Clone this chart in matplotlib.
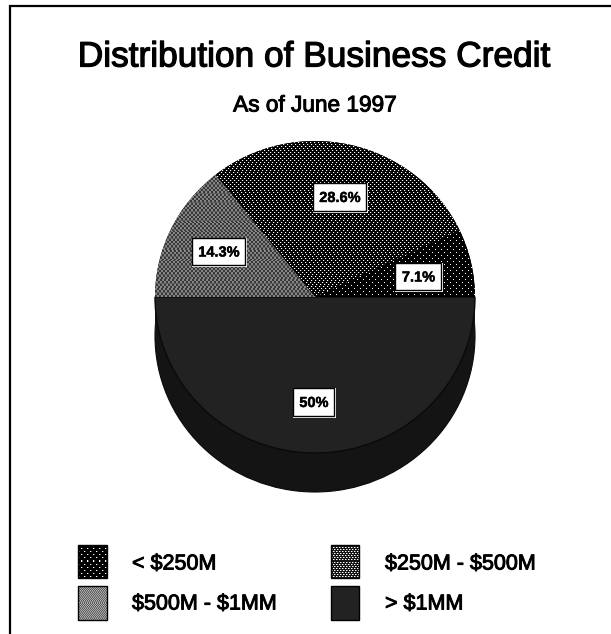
import numpy as np
import matplotlib
import matplotlib.pyplot as plt
import matplotlib.patheffects as pe
from matplotlib.lines import Line2D
from matplotlib.patches import Ellipse, Rectangle
matplotlib.use('Agg')

W, H = 611, 634
CX, CY, RX, RY, DEPTH = 315, 297, 160, 156, 39

categories = ["< $250M", "$250M - $500M", "$500M - $1MM", "> $1MM"]
shares = [7.1, 28.6, 14.3, 50]
title = "Distribution of Business Credit"
subtitle = "As of June 1997"

# label boxes, in pixels: left, top, right, bottom
label_boxes = [(395, 263, 442, 291), (313, 183, 367, 212), (192, 238, 246, 266), (293, 388, 335, 417)]
# legend swatches, in the same order as the categories
swatches = [(78, 545, 107, 578), (331, 545, 359, 578), (78, 586, 107, 620), (331, 586, 359, 620)]
legend_text = [(132, 564), (385, 564), (132, 604), (385, 604)]

plt.rcParams['font.family'] = ['Liberation Sans', 'DejaVu Sans']


def dots(period_x, period_y, low=0.0, high=1.0, side=0.0):
    # staggered single pixel dots on a dark ground, side is a dimmer neighbour pixel
    tile = np.full((period_y * 2, period_x), low)
    tile[0, 0] = high
    tile[0, 1] = side
    tile[period_y, period_x // 2] = high
    tile[period_y, period_x // 2 + 1] = side
    return tile


def weave(dark, light, size=2):
    # grey checks with a flatter row that gives the horizontal banding
    row_a = np.repeat([dark, light], size)
    row_b = np.repeat([light, dark], size)
    band = np.full(size * 2, (dark + light) / 2)
    return np.vstack([np.tile(row_a, (size, 1)), np.tile(row_b, (size, 1)), band,
                      np.tile(row_a, (size, 1)), np.tile(row_b, (size, 1))])


def texture(tile, wave=0):
    ny = H // tile.shape[0] + 1
    nx = W // tile.shape[1] + 2
    tex = np.tile(tile, (ny, nx))[:H]
    if wave:
        # slow sideways drift of the rows
        for row in range(H):
            tex[row] = np.roll(tex[row], int(round(wave * np.sin(row / 9.0))))
    return tex[:, :W]


def px(x, y):
    # pixel position to pie data units
    return (x - CX) / RX, (CY - y) / RY


def heavy(width):
    return [pe.withStroke(linewidth=width, foreground='black')]


fig = plt.figure(figsize=(W / 100, H / 100), dpi=100)
ax = fig.add_axes([0, 0, 1, 1])

wedges, _ = ax.pie(shares, startangle=0, counterclock=True, radius=1)

ax.set_aspect('auto')
ax.set_xlim(px(0, 0)[0], px(W, 0)[0])
ax.set_ylim(px(0, H)[1], px(0, 0)[1])
ax.axis('off')
extent = (*ax.get_xlim(), *ax.get_ylim())

# side of the disc below the front half
depth = DEPTH / RY
ax.add_patch(Ellipse((0, -depth), 2, 2, fc='#141414', ec='#0a0a0a', lw=0.8, zorder=0.5))
ax.add_patch(Rectangle((-1, -depth), 2, depth, fc='#141414', ec='none', zorder=0.5))

pie_fills = [(dots(6, 3), 0), (dots(4, 2, side=0.18), 2), (weave(0.22, 0.52), 1), None]
for wedge, fill in zip(wedges, pie_fills):
    wedge.set_zorder(1)
    if fill is None:
        wedge.set_facecolor('#222222')
        wedge.set_edgecolor('#0a0a0a')
        wedge.set_linewidth(1)
    else:
        wedge.set_facecolor('black')
        wedge.set_edgecolor('none')
        im = ax.imshow(texture(fill[0], fill[1]), cmap='gray', vmin=0, vmax=1, extent=extent,
                       aspect='auto', interpolation='nearest', zorder=1.5)
        im.set_clip_path(wedge)


def box(x0, y0, x1, y1, **kw):
    a, b = px(x0, y1)
    c, d = px(x1, y0)
    r = Rectangle((a, b), c - a, d - b, **kw)
    ax.add_patch(r)
    return r


for share, (x0, y0, x1, y1) in zip(shares, label_boxes):
    box(x0, y0, x1 + 1, y1 + 1, fc='white', ec='none', zorder=3)
    box(x0, y0, x1 - 1, y1 - 1, fc='white', ec='black', lw=1, zorder=3.5)
    fig.text((x0 + x1) / 2 / W, 1 - ((y0 + y1) / 2 + 0.5) / H, f"{share:g}%",
             ha='center', va='center', fontsize=10.5, fontweight='bold', color='black', zorder=5,
             path_effects=heavy(0.3))

# the small swatches use finer screens than the pie
swatch_fills = [dots(6, 3, side=0.3), dots(3, 2, low=0.08, side=0.5), weave(0.35, 0.68, size=1), None]
for tile, (x0, y0, x1, y1) in zip(swatch_fills, swatches):
    if tile is None:
        box(x0, y0, x1, y1, fc='#222222', ec='black', lw=1, zorder=3)
    else:
        clip = box(x0, y0, x1, y1, fc='black', ec='none', zorder=3)
        im = ax.imshow(texture(tile), cmap='gray', vmin=0, vmax=1, extent=extent,
                       aspect='auto', interpolation='nearest', zorder=3.5)
        im.set_clip_path(clip)
        box(x0, y0, x1, y1, fc='none', ec='black', lw=1, zorder=4)

ax.set_xlim(extent[0], extent[1])
ax.set_ylim(extent[2], extent[3])

for name, (x, y) in zip(categories, legend_text):
    fig.text(x / W, 1 - y / H, name, ha='left', va='center', fontsize=15.5, color='black',
             parse_math=False, path_effects=heavy(0.7))

fig.text(314 / W, 1 - 57 / H, title, ha='center', va='center', fontsize=25.4, color='black',
         path_effects=heavy(0.9))
fig.text(315 / W, 1 - 105 / H, subtitle, ha='center', va='center', fontsize=16.3, color='black',
         path_effects=heavy(0.7))

# page frame, open on the right and at the bottom
fig.add_artist(Line2D([10 / W, 10 / W, 1], [0, 1 - 6 / H, 1 - 6 / H], color='black', lw=1.6,
                      solid_joinstyle='miter'))

fig.savefig('out.png', dpi=100, facecolor='white')
